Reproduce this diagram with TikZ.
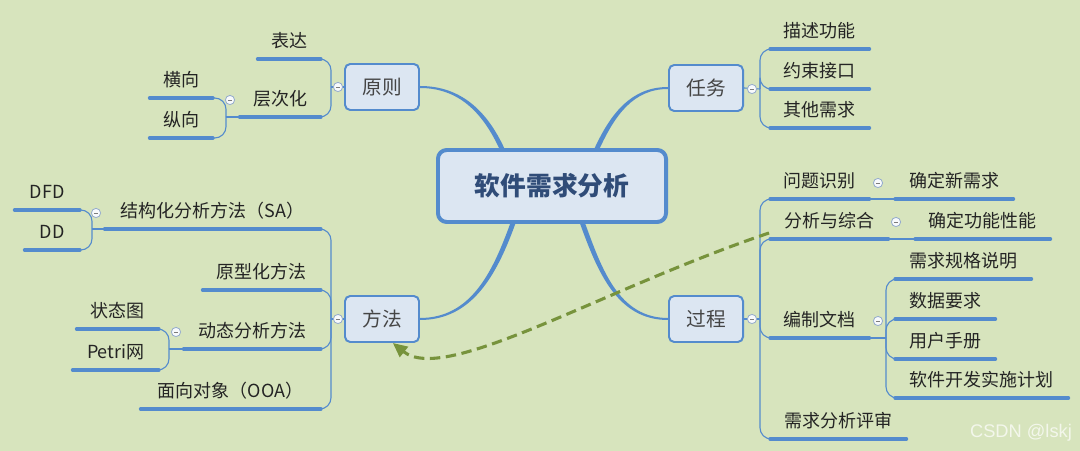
\documentclass[tikz,border=0pt]{standalone}
\usepackage{fontspec}
\usepackage{tikz}
\usetikzlibrary{arrows.meta}
\newfontfamily\cjkfont{Noto Sans CJK SC}
\newfontfamily\markfont{Liberation Sans}
\definecolor{mmbg}{RGB}{215,228,189}
\definecolor{mmblue}{RGB}{84,139,205}
\definecolor{mmfill}{RGB}{220,230,242}
\definecolor{mmgreen}{RGB}{119,147,60}
\definecolor{mmtext}{RGB}{36,36,36}
\definecolor{mmtitle}{RGB}{48,76,120}
\definecolor{mmfold}{RGB}{150,172,205}

\begin{document}
\begin{tikzpicture}[x=0.025cm, y=-0.025cm,
    root/.style={draw=mmblue, fill=mmfill, rounded corners=0.22cm, line width=2.8pt, minimum width=5.7cm, minimum height=1.8cm, font=\cjkfont\bfseries\fontsize{18.3}{20}\selectfont, text=mmtitle},
    topic/.style={draw=mmblue, fill=mmfill, rounded corners=0.13cm, line width=1.4pt, minimum width=1.85cm, minimum height=1.15cm, font=\cjkfont\fontsize{14}{16}\selectfont, text=mmtext!85},
    leaf/.style={inner sep=0pt, minimum width=#1*0.025cm, minimum height=0.85cm, text height=0.88em, text depth=0.12em, font=\cjkfont\fontsize{12.8}{14}\selectfont, text=mmtext},
    leftleaf/.style={leaf=#1, anchor=south east},
    rightleaf/.style={leaf=#1, anchor=south west},
    fold/.style={circle, draw=mmfold, fill=white!80!mmfill, line width=0.6pt, minimum size=0.23cm, inner sep=0pt,
      path picture={\draw[mmtext!60, line width=0.5pt] ([xshift=-1.6pt]path picture bounding box.center) -- ([xshift=1.6pt]path picture bounding box.center);}},
    trunk/.style={fill=mmblue},
    branch/.style={mmblue, line width=0.8pt, rounded corners=0.28cm},
    uline/.style={mmblue, line width=2.3pt, line cap=round},
    link/.style={mmgreen, line width=2.2pt, dash pattern=on 0.26cm off 0.14cm, -{Triangle[length=0.36cm, width=0.32cm]}},
    wmark/.style={font=\markfont\fontsize{13}{15}\selectfont, text=white, opacity=0.7}]
  \fill[mmbg] (0,0) rectangle (1080,451);
  \useasboundingbox (0,0) rectangle (1080,451);

  % centre and main topics
  \node[root] (soft) at (552,186) {软件需求分析};
  \node[topic] (yuanze) at (382,87) {原则};
  \node[topic] (renwu) at (706,88) {任务};
  \node[topic] (fangfa) at (382,319) {方法};
  \node[topic] (guocheng) at (706,319) {过程};

  % 原则
  \node[leftleaf=63] (biaoda) at (321,59) {表达};
  \node[leftleaf=81] (cengci) at (321,117) {层次化};
  \node[leftleaf=63] (hengxiang) at (213,98) {横向};
  \node[leftleaf=63] (zongxiang) at (213,138) {纵向};

  % 任务
  \node[rightleaf=99] (miaoshu) at (770,49) {描述功能};
  \node[rightleaf=99] (yueshu) at (770,89) {约束接口};
  \node[rightleaf=99] (qita) at (770,128) {其他需求};

  % 方法
  \node[leftleaf=216] (jiegou) at (321,229) {结构化分析方法（SA）};
  \node[leftleaf=65] (dfd) at (80,210) {DFD};
  \node[leftleaf=55] (dd) at (80,250) {DD};
  \node[leftleaf=118] (yuanxing) at (321,290) {原型化方法};
  \node[leftleaf=137] (dongtai) at (321,349) {动态分析方法};
  \node[leftleaf=82] (zhuangtai) at (159,329) {状态图};
  \node[leftleaf=86] (petri) at (159,370) {Petri网};
  \node[leftleaf=180] (mianxiang) at (321,409) {面向对象（OOA）};

  % 过程
  \node[rightleaf=99] (wenti) at (770,199) {问题识别};
  \node[rightleaf=118] (xinxuqiu) at (895,199) {确定新需求};
  \node[rightleaf=118] (fenxi) at (770,239) {分析与综合};
  \node[rightleaf=135] (gongneng) at (915,239) {确定功能性能};
  \node[rightleaf=99] (bianzhi) at (770,338) {编制文档};
  \node[rightleaf=136] (guige) at (895,279) {需求规格说明};
  \node[rightleaf=100] (shuju) at (895,319) {数据要求};
  \node[rightleaf=100] (shouce) at (895,359) {用户手册};
  \node[rightleaf=173] (jihua) at (895,398) {软件开发实施计划};
  \node[rightleaf=136] (pingshen) at (770,439) {需求分析评审};

  \foreach \n in {biaoda,cengci,hengxiang,zongxiang,miaoshu,yueshu,qita,jiegou,dfd,dd,yuanxing,dongtai,zhuangtai,petri,mianxiang,wenti,xinxuqiu,fenxi,gongneng,bianzhi,guige,shuju,shouce,jihua,pingshen}
    \draw[uline] (\n.south west) -- (\n.south east);

  % forks
  \coordinate (yz-fork) at (331,87);
  \coordinate (cc-fork) at (226,117);
  \coordinate (rw-fork) at (760,89);
  \coordinate (ff-fork) at (331,319);
  \coordinate (jg-fork) at (92,229);
  \coordinate (dt-fork) at (169,349);
  \coordinate (gc-fork) at (760,319);
  \coordinate (bz-fork) at (886,338);
  \coordinate (linkstart) at (769,233);

  % trunks, thicker at the centre
  \fill[trunk] ([xshift=-0.065cm]soft.143) to[out=115, in=0] ([yshift=-0.025cm]yuanze.east)
    -- ([yshift=0.025cm]yuanze.east) to[out=0, in=115] ([xshift=0.065cm]soft.143) -- cycle;
  \fill[trunk] ([xshift=-0.065cm]soft.40) to[out=65, in=180] ([yshift=0.025cm]renwu.west)
    -- ([yshift=-0.025cm]renwu.west) to[out=180, in=65] ([xshift=0.065cm]soft.40) -- cycle;
  \fill[trunk] ([xshift=-0.065cm]soft.224) to[out=-110, in=0] ([yshift=0.025cm]fangfa.east)
    -- ([yshift=-0.025cm]fangfa.east) to[out=0, in=-110] ([xshift=0.065cm]soft.224) -- cycle;
  \fill[trunk] ([xshift=-0.065cm]soft.309) to[out=-70, in=180] ([yshift=-0.025cm]guocheng.west)
    -- ([yshift=0.025cm]guocheng.west) to[out=180, in=-70] ([xshift=0.065cm]soft.309) -- cycle;

  % branches
  \draw[branch] (yuanze.west) -- (yz-fork);
  \foreach \n in {biaoda,cengci} \draw[branch] (yz-fork) |- (\n.south east);
  \draw[branch] (cengci.south west) -- (cc-fork);
  \foreach \n in {hengxiang,zongxiang} \draw[branch] (cc-fork) |- (\n.south east);

  \draw[branch] (renwu.east) -- (rw-fork);
  \foreach \n in {miaoshu,yueshu,qita} \draw[branch] (rw-fork) |- (\n.south west);

  \draw[branch] (fangfa.west) -- (ff-fork);
  \foreach \n in {jiegou,yuanxing,dongtai,mianxiang} \draw[branch] (ff-fork) |- (\n.south east);
  \draw[branch] (jiegou.south west) -- (jg-fork);
  \foreach \n in {dfd,dd} \draw[branch] (jg-fork) |- (\n.south east);
  \draw[branch] (dongtai.south west) -- (dt-fork);
  \foreach \n in {zhuangtai,petri} \draw[branch] (dt-fork) |- (\n.south east);

  \draw[branch] (guocheng.east) -- (gc-fork);
  \foreach \n in {wenti,fenxi,bianzhi,pingshen} \draw[branch] (gc-fork) |- (\n.south west);
  \draw[branch] (wenti.south east) -- (xinxuqiu.south west);
  \draw[branch] (fenxi.south east) -- (gongneng.south west);
  \draw[branch] (bianzhi.south east) -- (bz-fork);
  \foreach \n in {guige,shuju,shouce,jihua} \draw[branch] (bz-fork) |- (\n.south west);

  % fold buttons
  \node[fold] (yz-fold) at (338,87) {};
  \node[fold] (cc-fold) at (230,100) {};
  \node[fold] (rw-fold) at (752,89) {};
  \node[fold] (ff-fold) at (338,319) {};
  \node[fold] (jg-fold) at (96,213) {};
  \node[fold] (dt-fold) at (176,332) {};
  \node[fold] (gc-fold) at (752,319) {};
  \node[fold] (wt-fold) at (878,183) {};
  \node[fold] (fx-fold) at (896,222) {};
  \node[fold] (bz-fold) at (878,321) {};

  % relation
  \draw[link] (linkstart) .. controls (600,290) and (445,385) .. ([xshift=0.27cm]fangfa.south);

  \node[wmark] (mark) at (1021,433) {CSDN @lskj};
\end{tikzpicture}
\end{document}
